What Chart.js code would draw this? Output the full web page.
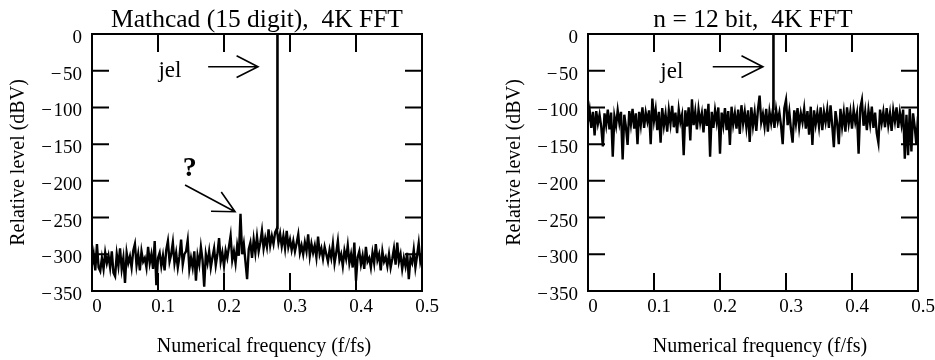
<!DOCTYPE html>
<html><head><meta charset="utf-8">
<script src="https://cdn.jsdelivr.net/npm/chart.js@4"></script>
<style>
html,body{margin:0;padding:0;background:#fff;}
#wrap{position:relative;width:935px;height:360px;overflow:hidden;}
#c1{position:absolute;left:0;top:0;}
#c2{position:absolute;left:467px;top:0;}
</style></head><body>
<div id="wrap"><canvas id="c1" width="467" height="360"></canvas><canvas id="c2" width="468" height="360"></canvas></div>
<script>
// ---- data ----
const freqStep = 0.0025; // FFT bin spacing used for the plotted levels (f/fs)
const levelsLeft = [
-315,-300,-322,-286,-318,-323,-305,-320,-298,-312,
-302,-318,-296,-325,-330,-300,-316,-292,-320,-305,
-339,-298,-312,-303,-318,-295,-286,-315,-300,-322,
-296,-310,-305,-318,-290,-312,-300,-320,-282,-342,
-305,-298,-316,-302,-322,-294,-282,-310,-300,-284,
-312,-298,-318,-303,-280,-314,-300,-296,-281,-320,
-305,-318,-296,-336,-302,-314,-290,-308,-344,-300,
-312,-296,-318,-304,-292,-315,-300,-278,-310,-298,
-316,-295,-305,-290,-275,-308,-296,-312,-288,-302,
-245,-300,-286,-310,-334,-293,-284,-305,-280,-298,
-276,-296,-284,-268,-292,-278,-290,-266,-288,-275,
-286,-270,-265,-284,-272,-289,-275,-292,-268,-290,
-280,-294,-282,-296,-285,-273,-298,-288,-300,-284,
-296,-273,-302,-286,-298,-288,-304,-276,-300,-292,
-306,-290,-300,-310,-294,-305,-286,-312,-298,-282,
-308,-300,-316,-295,-306,-288,-312,-300,-318,-284,
-336,-304,-296,-314,-302,-320,-290,-310,-305,-318,
-298,-312,-286,-308,-300,-322,-296,-310,-304,-316,
-300,-318,-306,-292,-314,-284,-310,-300,-320,-305,
-316,-298,-334,-306,-312,-294,-318,-302,-285,-310,
-300];
const levelsRight = [
-120,-104,-128,-106,-138,-105,-122,-110,-126,-153,
-108,-124,-103,-130,-107,-167,-112,-125,-104,-121,
-106,-171,-110,-127,-151,-105,-123,-102,-129,-108,
-150,-106,-124,-100,-128,-107,-119,-104,-150,-88,
-118,-103,-131,-106,-148,-101,-125,-109,-133,-104,
-122,-98,-127,-107,-135,-103,-120,-110,-165,-104,
-126,-100,-145,-89,-124,-106,-130,-103,-121,-108,
-134,-102,-125,-95,-167,-106,-128,-104,-120,-100,
-163,-107,-124,-101,-131,-105,-151,-99,-123,-108,
-129,-103,-136,-97,-122,-106,-127,-104,-147,-100,
-125,-107,-132,-103,-84,-120,-109,-126,-102,-133,
-106,-121,-104,-128,-103,-119,-107,-125,-150,-101,
-90,-124,-106,-130,-148,-104,-122,-101,-127,-108,
-120,-102,-129,-105,-137,-99,-151,-104,-123,-107,
-126,-100,-131,-106,-120,-103,-128,-97,-124,-154,
-105,-121,-150,-102,-126,-107,-133,-100,-122,-106,
-129,-103,-120,-108,-163,-101,-90,-125,-106,-131,
-104,-122,-99,-128,-107,-135,-148,-103,-121,-106,
-127,-101,-124,-108,-132,-104,-119,-100,-128,-107,
-123,-103,-170,-110,-165,-102,-160,-108,-126,-150,
-112];
const carrierFreq = [0.281, 0.281];
const carrierLevelLeft = [-266, 0];
const carrierLevelRight = [-104, 0];
const xTickLabels = ['0', '0.1', '0.2', '0.3', '0.4', '0.5'];
const yTickLabels = ['\u2212\u200a350', '\u2212\u200a300', '\u2212\u200a250', '\u2212\u200a200', '\u2212\u200a150', '\u2212\u200a100', '\u2212\u200a50', '0'];
const chartTitles = ['Mathcad (15 digit),  4K FFT', 'n = 12 bit,  4K FFT'];
const xAxisTitle = 'Numerical frequency (f/fs)';
const yAxisTitle = 'Relative level (dBV)';

const SERIF = '"Liberation Serif", "Times New Roman", serif';

function drawArrow(ctx, x0, y0, x1, y1) {
  const ang = Math.atan2(y1 - y0, x1 - x0), L = 24, h = 0.47;
  ctx.moveTo(x0, y0); ctx.lineTo(x1, y1);
  ctx.moveTo(x1 - L * Math.cos(ang - h), y1 - L * Math.sin(ang - h));
  ctx.lineTo(x1, y1);
  ctx.lineTo(x1 - L * Math.cos(ang + h), y1 - L * Math.sin(ang + h));
}

const framePlugin = {
  id: 'frameTicks',
  afterDatasetsDraw(chart, args, opts) {
    const {ctx, chartArea: a, scales: {x, y}} = chart;
    ctx.save();
    ctx.strokeStyle = '#000'; ctx.lineWidth = 2;
    ctx.strokeRect(a.left, a.top, a.right - a.left, a.bottom - a.top);
    ctx.beginPath();
    x.ticks.forEach(t => { const p = x.getPixelForValue(t.value);
      ctx.moveTo(p, a.bottom); ctx.lineTo(p, a.bottom - 18);
      ctx.moveTo(p, a.top); ctx.lineTo(p, a.top + 18); });
    y.ticks.forEach(t => { const p = y.getPixelForValue(t.value);
      ctx.moveTo(a.left, p); ctx.lineTo(a.left + 17, p);
      ctx.moveTo(a.right, p); ctx.lineTo(a.right - 17, p); });
    ctx.stroke();
    // axis titles
    ctx.fillStyle = '#000'; ctx.font = '20px ' + SERIF;
    ctx.textAlign = 'center'; ctx.textBaseline = 'middle';
    ctx.fillText(xAxisTitle, (a.left + a.right) / 2 + 7, 347);
    ctx.translate(opts.yTitleX, (a.top + a.bottom) / 2);
    ctx.rotate(-Math.PI / 2);
    ctx.fillText(yAxisTitle, 0, 0);
    ctx.restore();
  },
  afterDraw(chart, args, opts) {
    const {ctx, scales: {x, y}} = chart;
    const n = opts.notes;
    ctx.save();
    ctx.fillStyle = '#000'; ctx.strokeStyle = '#000'; ctx.lineWidth = 1.6;
    ctx.textAlign = 'center'; ctx.textBaseline = 'middle';
    n.texts.forEach(t => {
      ctx.font = (t.bold ? 'bold ' : '') + t.size + 'px ' + SERIF;
      ctx.fillText(t.text, x.getPixelForValue(t.f), y.getPixelForValue(t.v));
    });
    ctx.beginPath();
    n.arrows.forEach(r => drawArrow(ctx, x.getPixelForValue(r[0]), y.getPixelForValue(r[1]),
                                      x.getPixelForValue(r[2]), y.getPixelForValue(r[3])));
    ctx.stroke();
    ctx.restore();
  }
};

function makeChart(id, levels, carrierLevel, title, yAxisWidth, padRight, yTitleX, notes) {
  const noise = levels.map((v, i) => ({x: i * freqStep, y: v}));
  const carrier = carrierFreq.map((f, i) => ({x: f, y: carrierLevel[i]}));
  return new Chart(document.getElementById(id), {
    type: 'line',
    data: {datasets: [
      {data: noise, borderColor: '#000', borderWidth: 2.4, pointRadius: 0, tension: 0, fill: false},
      {data: carrier, borderColor: '#000', borderWidth: 2.6, pointRadius: 0, fill: false}
    ]},
    plugins: [framePlugin],
    options: {
      responsive: false, animation: false, devicePixelRatio: 1,
      layout: {padding: {left: 0, right: padRight, top: 0, bottom: 0}},
      plugins: {
        legend: {display: false}, tooltip: {enabled: false},
        title: {display: true, text: title, fullSize: false, color: '#000',
                font: {family: SERIF, size: 25.5, weight: 'normal'}, padding: {top: 5.4, bottom: -2}},
        frameTicks: {yTitleX: yTitleX, notes: notes}
      },
      scales: {
        x: {type: 'linear', min: 0, max: 0.5,
            afterFit(s) { s.height = 69; },
            grid: {display: false, drawTicks: false}, border: {display: false},
            ticks: {stepSize: 0.1, padding: 5, labelOffset: 5, color: '#000', autoSkip: false, maxRotation: 0,
                    font: {family: SERIF, size: 19}, callback: (v, i) => xTickLabels[i]}},
        y: {type: 'linear', min: -350, max: 0,
            afterFit(s) { s.width = yAxisWidth; },
            grid: {display: false, drawTicks: false}, border: {display: false},
            ticks: {stepSize: 50, padding: 10, labelOffset: 4, color: '#000', autoSkip: false,
                    font: {family: SERIF, size: 19}, callback: (v, i) => yTickLabels[i]}}
      }
    }
  });
}

makeChart('c1', levelsLeft, carrierLevelLeft, chartTitles[0], 92, 45, 19, {
  texts: [{text: 'jel', f: 0.118, v: -50, size: 23}, {text: '?', f: 0.148, v: -184, size: 28, bold: true}],
  arrows: [[0.176, -44.5, 0.2515, -44.5], [0.141, -205.6, 0.2167, -242]]
});
makeChart('c2', levelsRight, carrierLevelRight, chartTitles[1], 121, 17, 48, {
  texts: [{text: 'jel', f: 0.127, v: -51.8, size: 23}],
  arrows: [[0.189, -44.5, 0.265, -44.5]]
});
</script>
</body></html>
